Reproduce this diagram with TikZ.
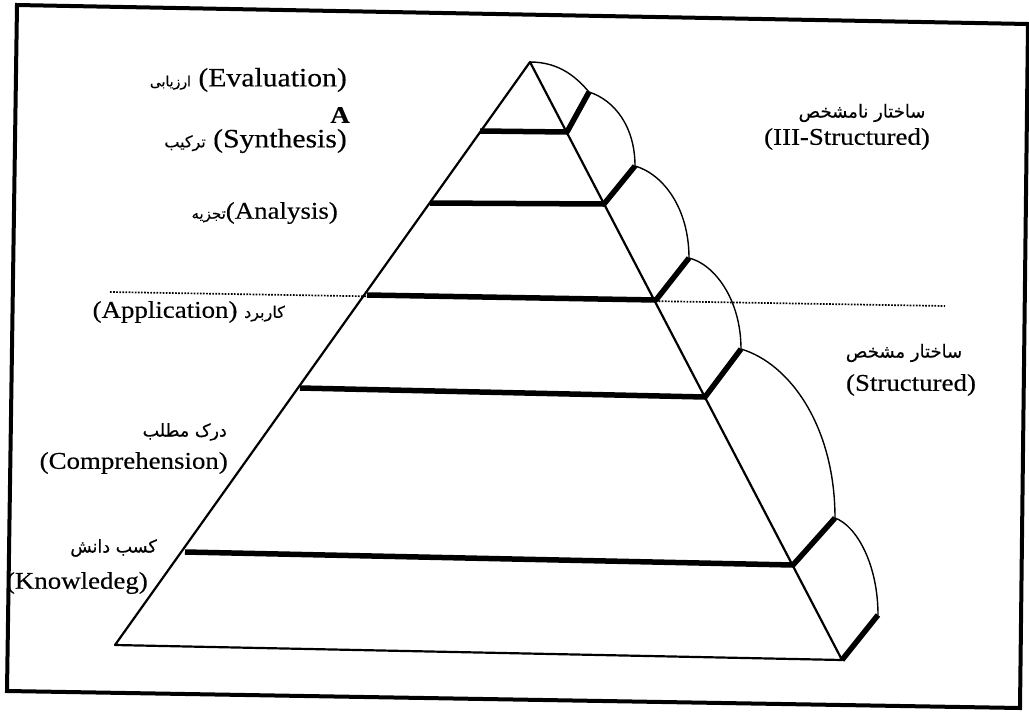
\documentclass[tikz,border=0pt]{standalone}
\usepackage{fontspec}
\setmainfont{Liberation Serif}[FakeStretch=1.12,FakeBold=0.3]
\newfontfamily\fa[Script=Arabic,FakeBold=0.3]{DejaVu Sans}
\TeXXeTstate=1
\usetikzlibrary{calc}
\newcommand\fatext[2][16]{{\fa\fontsize{#1}{20}\selectfont\beginR #2\endR}}
\tikzset{
  frameline/.style={line width=4pt, line join=miter},
  edgeline/.style={line width=2.2pt, line join=round},
  barline/.style={line width=5.5pt, line join=round},
  arcline/.style={line width=1.4pt},
  dotline/.style={line width=1.7pt, dash pattern=on 1.7pt off 1.4pt},
  lbl/.style={inner sep=0pt, font=\fontsize{24}{28}\selectfont},
  biglbl/.style={inner sep=0pt, font=\fontsize{26.5}{30}\selectfont},
}
\begin{document}
\begin{tikzpicture}[x=1pt,y=-1pt]
\useasboundingbox (0,0) rectangle (1029,713);
% frame
\coordinate (FTL) at (17,5);
\coordinate (FTR) at (1028,24);
\coordinate (FBR) at (1020,708);
\coordinate (FBL) at (7,691);
\draw[frameline] (FTL) -- (FTR) -- (FBR) -- (FBL) -- cycle;
% dotted divider
\coordinate (D1) at (110,292);
\coordinate (D2) at (945,306);
\draw[dotline] (D1) -- (D2);
% pyramid points
\coordinate (apex) at (530,62);
\coordinate (BL) at (115,645);
\coordinate (BR) at (842,660);
\coordinate (L1) at (480,131);
\coordinate (L2) at (430,203);
\coordinate (L3) at (367,295);
\coordinate (L4) at (300,388);
\coordinate (L5) at (185,552);
\coordinate (R1) at (567,132);
\coordinate (R2) at (604,204);
\coordinate (R3) at (656,300);
\coordinate (R4) at (705,397);
\coordinate (R5) at (793,565);
\coordinate (S1) at (589,92);
\coordinate (S2) at (635,166);
\coordinate (S3) at (689,258);
\coordinate (S4) at (741,349);
\coordinate (S5) at (835,518);
\coordinate (S6) at (878,615);
% front face
\draw[edgeline] (BL) -- (apex) -- (BR) -- cycle;
% level bars
\draw[barline] (L1) -- (R1) -- (S1);
\draw[barline] (L2) -- (R2) -- (S2);
\draw[barline] (L3) -- (R3) -- (S3);
\draw[barline] (L4) -- (R4) -- (S4);
\draw[barline] (L5) -- (R5) -- (S5);
\draw[barline] (BR) -- (S6);
% arcs
\draw[arcline] (apex) .. controls +(30,0) and +(-12,-14) .. (S1);
\draw[arcline] (S1) .. controls +(25,8) and +(0,-40) .. (S2);
\draw[arcline] (S2) .. controls +(28,8) and +(0,-50) .. (S3);
\draw[arcline] (S3) .. controls +(25,6) and +(0,-50) .. (S4);
\draw[arcline] (S4) .. controls +(50,15) and +(0,-90) .. (S5);
\draw[arcline] (S5) .. controls +(22,8) and +(0,-50) .. (S6);
% labels left
\node[biglbl, anchor=east] (teval) at (347,80) {\fatext[14]{ارزیابی} (Evaluation)};
\node[lbl, anchor=east] (ta) at (350,115) {\bfseries A};
\node[biglbl, anchor=east] (tsyn) at (347,141) {\fatext[16]{ترکیب} (Synthesis)};
\node[lbl, anchor=east] (tana) at (338,213) {\fatext[15]{تجزیه}(Analysis)};
\node[lbl, anchor=east] (tapp) at (285,312) {(Application) \fatext[16]{کاربرد}};
\node[lbl, anchor=east] (tcomfa) at (227,432) {\fatext[17.5]{درک مطلب}};
\node[lbl, anchor=east] (tcom) at (228,463) {(Comprehension)};
\node[lbl, anchor=east] (tknfa) at (157,548) {\fatext[17.5]{کسب دانش}};
\node[lbl, anchor=east] (tkn) at (148,583) {(Knowledeg)};
% labels right
\node[lbl] (tillfa) at (862,113) {\fatext[18]{ساختار نامشخص}};
\node[lbl] (till) at (847,139) {(III-Structured)};
\node[lbl] (tstrfa) at (904,353) {\fatext[18]{ساختار مشخص}};
\node[lbl] (tstr) at (911,385) {(Structured)};
\end{tikzpicture}
\end{document}
